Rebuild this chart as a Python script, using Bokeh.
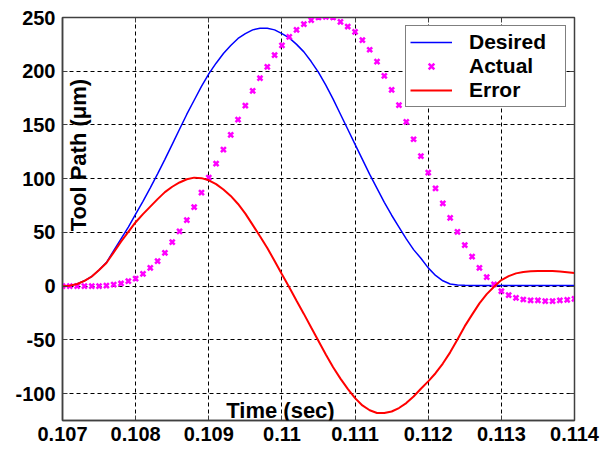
from bokeh.plotting import figure
from bokeh.models import (Range1d, FixedTicker, CustomJSTickFormatter, LinearAxis,
                          Legend, LegendItem, Label, ColumnDataSource)
from bokeh.embed import file_html
from bokeh.resources import INLINE

# ---------------- data ----------------
time_s = [0.1070, 0.1071, 0.1072, 0.1073, 0.1074, 0.1075, 0.1076, 0.1077, 0.1078, 0.1079,
          0.1080, 0.1081, 0.1082, 0.1083, 0.1084, 0.1085, 0.1086, 0.1087, 0.1088, 0.1089,
          0.1090, 0.1091, 0.1092, 0.1093, 0.1094, 0.1095, 0.1096, 0.1097, 0.1098, 0.1099,
          0.1100, 0.1101, 0.1102, 0.1103, 0.1104, 0.1105, 0.1106, 0.1107, 0.1108, 0.1109,
          0.1110, 0.1111, 0.1112, 0.1113, 0.1114, 0.1115, 0.1116, 0.1117, 0.1118, 0.1119,
          0.1120, 0.1121, 0.1122, 0.1123, 0.1124, 0.1125, 0.1126, 0.1127, 0.1128, 0.1129,
          0.1130, 0.1131, 0.1132, 0.1133, 0.1134, 0.1135, 0.1136, 0.1137, 0.1138, 0.1139,
          0.1140]

desired = [0, 0.5, 2, 5, 9, 15, 22, 33, 44, 55,
           67, 79, 91.5, 104.5, 118, 132, 146, 160, 173, 186,
           197.5, 207.5, 216.5, 224, 230.5, 235, 238.5, 240, 240, 238.5,
           235, 231, 225, 218, 209, 199, 187, 174, 160, 146,
           132, 118, 104, 91, 78, 66, 55, 44, 34, 26,
           17, 10, 5, 2, 1, 0.8, 0.7, 0.6, 0.6, 0.6,
           0.6, 0.6, 0.6, 0.6, 0.6, 0.6, 0.6, 0.6, 0.6, 0.6,
           0.6]

actual = [0, 0, 0, 0, 0, 0, 0.5, 1.5, 2.5, 4.7,
          7, 11.5, 17, 23.3, 31, 41, 51, 61.5, 73.6, 87,
          101, 114, 127, 140.7, 155, 168, 181.7, 193.5, 204, 215,
          224, 232, 238.5, 243.8, 247.5, 250, 250.5, 250, 246, 241.6,
          236.6, 229, 220, 209, 195.7, 182.6, 168.4, 152.8, 136.7, 121,
          105.6, 91, 77, 63.6, 50.6, 38.2, 27.5, 17, 8.4, 1.6,
          -4.7, -8.4, -10.9, -12.4, -13.3, -13.3, -14.0, -14.0, -13.3, -12.7,
          -11.8]

error = [0, 0.5, 2, 5, 9, 15, 21.5, 31.5, 41.5, 50.5,
         59.5, 67, 74, 81, 87.5, 92.5, 96.5, 99.5, 101, 100.5,
         98.5, 95, 90, 84, 76.5, 67.5, 57, 46.5, 35.5, 23.5,
         11, -1, -13.5, -25.8, -38.5, -51, -63.5, -75.5, -86, -95.6,
         -104.2, -111, -115.5, -118, -118, -116.6, -113.4, -108.8, -102.7, -95.5,
         -88.6, -81, -72, -61.6, -49.6, -37.2, -26.5, -16, -7.4, -0.6,
         5.7, 9.4, 11.9, 13.2, 13.8, 14.0, 14.2, 14.0, 13.6, 13.0,
         12.3]

xticks = [0.107, 0.108, 0.109, 0.110, 0.111, 0.112, 0.113, 0.114]
xtick_labels = ["0.107", "0.108", "0.109", "0.11", "0.111", "0.112", "0.113", "0.114"]
yticks = [-100, -50, 0, 50, 100, 150, 200, 250]
ytick_labels = ["-100", "-50", "0", "50", "100", "150", "200", "250"]

series_names = ["Desired", "Actual", "Error"]
x_label = "Time (sec)"
y_label = "Tool Path (\u03bcm)"

# ---------------- figure ----------------
FONT = "Liberation Sans"
FS = "20px"
TITLE_FS = "22px"

p = figure(width=611, height=451,
           x_range=Range1d(0.107, 0.114), y_range=Range1d(-125, 250),
           output_backend="svg", toolbar_location=None,
           min_border_left=62, min_border_right=37,
           min_border_top=17, min_border_bottom=31)
p.background_fill_color = "white"
p.border_fill_color = "white"
p.outline_line_color = "#404040"
p.outline_line_width = 1.5

src = ColumnDataSource(dict(t=time_s, d=desired, a=actual, e=error))

r_des = p.line("t", "d", source=src, line_color="#0000ff", line_width=1.5)
r_act = p.scatter("t", "a", source=src, marker="x", size=7,
                  line_color="#ff00ff", line_width=2.5)
r_err = p.line("t", "e", source=src, line_color="#ff0000", line_width=2)

# axes
fmt_code = """
for (let i = 0; i < vals.length; i++) { if (Math.abs(vals[i] - tick) < 1e-9) return labs[i]; }
return tick.toString();
"""
xfmt = CustomJSTickFormatter(args=dict(vals=xticks, labs=xtick_labels), code=fmt_code)
yfmt = CustomJSTickFormatter(args=dict(vals=yticks, labs=ytick_labels), code=fmt_code)

ax = p.xaxis[0]
ax.ticker = FixedTicker(ticks=xticks)
ax.formatter = xfmt
ay = p.yaxis[0]
ay.ticker = FixedTicker(ticks=yticks)
ay.formatter = yfmt

for axis in (ax, ay):
    axis.major_label_text_font = FONT
    axis.major_label_text_font_style = "bold"
    axis.major_label_text_font_size = FS
    axis.major_label_text_color = "black"
    axis.axis_line_color = "#404040"
    axis.axis_line_width = 1.5
    axis.major_tick_in = 5
    axis.major_tick_out = 0
    axis.major_tick_line_color = "#404040"
    axis.minor_tick_line_color = None
ax.major_label_standoff = 6
ay.major_label_standoff = 7

blank = CustomJSTickFormatter(code="return '';")
top = LinearAxis(ticker=FixedTicker(ticks=xticks), formatter=blank,
                 major_tick_in=5, major_tick_out=0, minor_tick_line_color=None,
                 axis_line_color="#404040", major_tick_line_color="#404040",
                 major_label_standoff=0)
right = LinearAxis(ticker=FixedTicker(ticks=yticks), formatter=blank,
                   major_tick_in=5, major_tick_out=0, minor_tick_line_color=None,
                   axis_line_color="#404040", major_tick_line_color="#404040",
                   major_label_standoff=0)
p.add_layout(top, "above")
p.add_layout(right, "right")

# grid
for g in (p.xgrid[0], p.ygrid[0]):
    g.grid_line_color = "black"
    g.grid_line_dash = "4 3"
    g.grid_line_width = 1
p.xgrid[0].ticker = FixedTicker(ticks=xticks)
p.ygrid[0].ticker = FixedTicker(ticks=yticks)

# axis titles drawn inside the frame, as in the reference
p.add_layout(Label(x=0.10998, y=-115.5, text=x_label, text_font=FONT,
                   text_font_style="bold", text_font_size=TITLE_FS, text_color="black",
                   text_align="center", text_baseline="alphabetic"))
p.add_layout(Label(x=0.107215, y=122, text=y_label, text_font=FONT, angle=1.5707963,
                   text_font_style="bold", text_font_size=TITLE_FS, text_color="black",
                   text_align="center", text_baseline="alphabetic"))

# legend
legend = Legend(items=[LegendItem(label=series_names[0], renderers=[r_des]),
                       LegendItem(label=series_names[1], renderers=[r_act]),
                       LegendItem(label=series_names[2], renderers=[r_err])],
                location="top_right", margin=8, padding=4, spacing=0,
                glyph_width=42, glyph_height=20, label_height=20, label_width=92,
                label_standoff=17,
                label_text_font=FONT, label_text_font_style="bold",
                label_text_font_size="21px", label_text_color="black",
                border_line_color="black", border_line_width=1.5,
                background_fill_color="white", background_fill_alpha=1.0)
p.add_layout(legend, "center")

open("out.html", "w").write(file_html(p, INLINE))
